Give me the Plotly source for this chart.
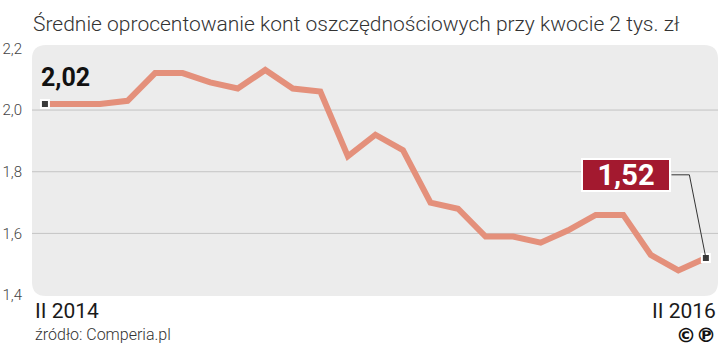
import plotly.graph_objects as go

months = ["II 2014", "III 2014", "IV 2014", "V 2014", "VI 2014", "VII 2014", "VIII 2014",
          "IX 2014", "X 2014", "XI 2014", "XII 2014", "I 2015", "II 2015", "III 2015",
          "IV 2015", "V 2015", "VI 2015", "VII 2015", "VIII 2015", "IX 2015", "X 2015",
          "XI 2015", "XII 2015", "I 2016", "II 2016"]
rates = [2.02, 2.02, 2.02, 2.03, 2.12, 2.12, 2.09, 2.07, 2.13, 2.07, 2.06, 1.85, 1.92,
         1.87, 1.70, 1.68, 1.59, 1.59, 1.57, 1.61, 1.66, 1.66, 1.53, 1.48, 1.52]
y_ticks = [1.4, 1.6, 1.8, 2.0, 2.2]
grid_vals = [1.6, 1.8, 2.0]

title = "Średnie oprocentowanie kont oszczędnościowych przy kwocie 2 tys. zł"
source = "źródło: Comperia.pl"

LINE = "#e4907b"
W, H = 720, 348
ML, MR, MT, MB = 32, 2, 45, 52
PW, PH = W - ML - MR, H - MT - MB

x_idx = list(range(len(months)))
n = len(months) - 1

fig = go.Figure()

fig.add_trace(go.Scatter(x=x_idx, y=rates, mode="lines",
                         line=dict(color=LINE, width=6), hoverinfo="skip"))
fig.add_trace(go.Scatter(x=[x_idx[0], x_idx[-1]], y=[rates[0], rates[-1]], mode="markers",
                         marker=dict(symbol="square", size=8, color="#3a3a3a",
                                     line=dict(color="white", width=2)),
                         hoverinfo="skip"))

# rounded background
def rounded_path(r_px):
    rx, ry = r_px / PW, r_px / PH
    return (f"M {rx},0 L {1-rx},0 Q 1,0 1,{ry} L 1,{1-ry} Q 1,1 {1-rx},1 "
            f"L {rx},1 Q 0,1 0,{1-ry} L 0,{ry} Q 0,0 {rx},0 Z")

shapes = [dict(type="path", xref="paper", yref="paper", path=rounded_path(14),
               fillcolor="#ececec", line=dict(width=0), layer="below")]
for g in grid_vals:
    shapes.append(dict(type="line", xref="paper", yref="y", x0=0, x1=1, y0=g, y1=g,
                       line=dict(color="#c4c4c4", width=1), layer="below"))

# connector from callout to last point
cx_end = n - 0.6
shapes.append(dict(type="path", xref="x", yref="y",
                   path=f"M {n-1.25},1.79 L {cx_end},1.79 L {x_idx[-1]},{rates[-1]}",
                   line=dict(color="#333333", width=1)))

fmt = lambda v: f"{v:.2f}".replace(".", ",")

annotations = [
    dict(text=title, xref="paper", yref="paper", x=0, y=1, xanchor="left", yanchor="bottom",
         xshift=-1, yshift=7, showarrow=False,
         font=dict(family="Roboto", size=21, color="#333333", weight=300)),
    dict(text=fmt(rates[0]), xref="x", yref="y", x=x_idx[0], y=rates[0], xanchor="left",
         yanchor="bottom", xshift=-6, yshift=10, showarrow=False,
         font=dict(family="Roboto", size=25, color="#111111", weight="bold")),
    dict(text=fmt(rates[-1]), xref="x", yref="y", x=n - 2.9, y=1.79, xanchor="center",
         yanchor="middle", showarrow=False, bgcolor="#a3192f", bordercolor="white",
         borderwidth=2, borderpad=1, width=84, height=28,
         font=dict(family="Roboto", size=29, color="white", weight="bold")),
    dict(text=months[0], xref="paper", yref="paper", x=0, y=0, xanchor="left", yanchor="top",
         xshift=1, yshift=-1, showarrow=False,
         font=dict(family="Roboto", size=21, color="#1a1a1a", weight=400)),
    dict(text=months[-1], xref="paper", yref="paper", x=1, y=0, xanchor="right", yanchor="top",
         yshift=-1, showarrow=False,
         font=dict(family="Roboto", size=21, color="#1a1a1a", weight=400)),
    dict(text=source, xref="paper", yref="paper", x=0, y=0, xanchor="left", yanchor="top",
         xshift=1, yshift=-27, showarrow=False,
         font=dict(family="Roboto", size=16, color="#333333", weight=300)),
    dict(text="©℗", xref="paper", yref="paper", x=1, y=0, xanchor="right", yanchor="top",
         yshift=-25, showarrow=False,
         font=dict(family="DejaVu Sans", size=20, color="#111111", weight="bold")),
]

fig.update_layout(
    width=W, height=H, margin=dict(l=ML, r=MR, t=MT, b=MB),
    paper_bgcolor="white", plot_bgcolor="rgba(0,0,0,0)",
    separators=", ", showlegend=False,
    shapes=shapes, annotations=annotations,
    xaxis=dict(range=[-0.47, n + 0.44], showgrid=False, zeroline=False,
               showticklabels=False, fixedrange=True),
    yaxis=dict(range=[1.397, 2.211], tickvals=y_ticks, tickformat=".1f", showgrid=False,
               zeroline=False, ticks="outside", ticklen=6, tickcolor="rgba(0,0,0,0)",
               tickfont=dict(family="Roboto", size=15, color="#444444", weight=300)),
)

fig.write_html("out.html")
